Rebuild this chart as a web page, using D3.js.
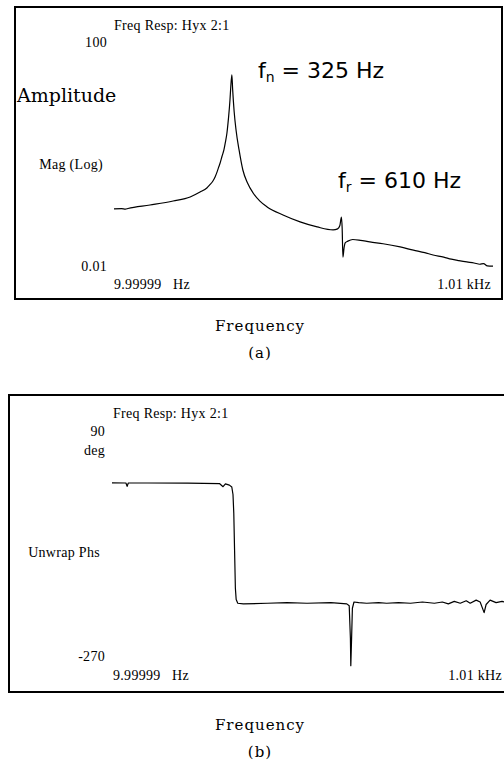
<!DOCTYPE html>
<html><head>
<meta charset="utf-8">
<script src="https://d3js.org/d3.v7.min.js"></script>
<style>
  body { margin: 0; background: white; }
  svg text { fill: black; }
  .small { font-family: "Liberation Serif", "Times New Roman", serif; font-size: 14px; letter-spacing: 0.3px; }
  .big { font-family: "DejaVu Serif", serif; font-size: 19px; }
  .cap { font-family: "DejaVu Serif", serif; font-size: 15px; letter-spacing: 1px; }
  .ann { font-family: "DejaVu Sans", sans-serif; font-size: 22px; }
  .trace { fill: none; stroke: black; stroke-width: 1.2; stroke-linejoin: round; }
</style>
</head>
<body>
<div id="chart"></div>
<script>
// magnitude trace (panel a) - frequency in Hz, magnitude (log axis)
var magFreq = [10, 30, 40, 47, 105, 166, 211, 237, 255, 262, 271, 277, 282, 286, 290, 295, 300, 304, 308, 312, 316, 318, 321, 323, 327, 332, 340, 350, 362, 377, 395, 414, 456, 501, 546, 588, 600, 606, 610, 612, 614, 617, 620, 627, 640, 660, 685, 720, 765, 800, 830, 852, 880, 900, 920, 941, 960, 975, 985, 995, 1010];
var magVal  = [0.109, 0.11, 0.108, 0.111, 0.128, 0.151, 0.178, 0.218, 0.258, 0.29, 0.343, 0.41, 0.5, 0.6, 0.72, 0.95, 1.23, 1.7, 2.47, 4.5, 9.6, 16, 27, 15, 6, 2.8, 1.23, 0.54, 0.32, 0.21, 0.15, 0.118, 0.085, 0.064, 0.052, 0.046, 0.048, 0.055, 0.078, 0.05, 0.015, 0.022, 0.027, 0.029, 0.031, 0.030, 0.028, 0.026, 0.0228, 0.020, 0.018, 0.0164, 0.015, 0.0138, 0.0130, 0.0123, 0.0118, 0.0112, 0.0115, 0.0105, 0.0104];

// unwrapped phase trace (panel b) - frequency in Hz, degrees
var phsFreq = [10, 45, 48, 51, 100, 200, 280, 289, 295, 305, 311, 314, 316, 318, 320, 322, 326, 340, 400, 450, 500, 560, 600, 606, 609, 610, 612, 614, 618, 630, 650, 680, 700, 730, 760, 790, 820, 840, 855, 870, 885, 900, 910, 925, 935, 945, 950, 960, 975, 990, 1005];
var phsVal  = [8.5, 8.4, 3, 8.4, 8.4, 8.2, 7.5, 2.5, 7, 5, 2, -10, -40, -100, -160, -178, -184, -185, -184, -183, -184, -183, -185, -188, -240, -284, -240, -192, -182, -183, -184, -183, -184, -183, -184, -182, -184, -182, -185, -181, -184, -180, -184, -179, -182, -199, -186, -179, -183, -181, -184];

var magTicks = ["100", "0.01"];
var phsTicks = ["90", "-270"];
var freqTicks = ["9.99999   Hz", "1.01 kHz"];

var W = 504, H = 767;
var svg = d3.select("#chart").append("svg")
  .attr("width", W).attr("height", H);
svg.append("rect").attr("width", W).attr("height", H).attr("fill", "white");

// ---------- panel (a) ----------
var xA = d3.scaleLinear().domain([10, 1010]).range([114, 493]);
var yA = d3.scaleLog().domain([0.01, 100]).range([267, 43]);

svg.append("rect")
  .attr("x", 15).attr("y", 7).attr("width", 487).attr("height", 292)
  .attr("fill", "none").attr("stroke", "black").attr("stroke-width", 2);

var magData = magFreq.map(function(f, i) { return {f: f, v: magVal[i]}; });
var lineA = d3.line()
  .x(function(d) { return xA(d.f); })
  .y(function(d) { return yA(d.v); })
  .curve(d3.curveMonotoneX);
svg.append("path").datum(magData).attr("class", "trace").attr("d", lineA);

svg.append("text").attr("class", "small").attr("x", 114).attr("y", 30).text("Freq Resp: Hyx 2:1");
svg.append("text").attr("class", "small").attr("text-anchor", "end")
  .attr("x", 107).attr("y", yA(100) + 4).text(magTicks[0]);
svg.append("text").attr("class", "small").attr("text-anchor", "end")
  .attr("x", 107).attr("y", yA(0.01) + 4).text(magTicks[1]);
svg.append("text").attr("class", "small").attr("text-anchor", "end")
  .attr("x", 103).attr("y", 169).text("Mag (Log)");
svg.append("text").attr("class", "big").attr("x", 17).attr("y", 102).text("Amplitude");
svg.append("text").attr("class", "small").attr("x", xA(10)).attr("y", 289)
  .style("white-space", "pre").attr("xml:space", "preserve").text(freqTicks[0]);
svg.append("text").attr("class", "small").attr("text-anchor", "end")
  .attr("x", xA(1010) - 2).attr("y", 289).text(freqTicks[1]);

// annotations
var fn = svg.append("text").attr("class", "ann").attr("x", 258).attr("y", 78);
fn.append("tspan").text("f");
fn.append("tspan").attr("dy", 4).style("font-size", "14px").text("n");
fn.append("tspan").attr("dy", -4).text(" = 325 Hz");
var fr = svg.append("text").attr("class", "ann").attr("x", 338).attr("y", 188);
fr.append("tspan").text("f");
fr.append("tspan").attr("dy", 4).style("font-size", "14px").text("r");
fr.append("tspan").attr("dy", -4).text(" = 610 Hz");

svg.append("text").attr("class", "cap").attr("text-anchor", "middle")
  .attr("x", 260).attr("y", 331).text("Frequency");
svg.append("text").attr("class", "cap").attr("text-anchor", "middle")
  .attr("x", 260).attr("y", 358).text("(a)");

// ---------- panel (b) ----------
var xB = d3.scaleLinear().domain([10, 1010]).range([112, 510]);
var yB = d3.scaleLinear().domain([-270, 90]).range([657, 432]);

svg.append("rect")
  .attr("x", 9).attr("y", 395).attr("width", 510).attr("height", 297)
  .attr("fill", "none").attr("stroke", "black").attr("stroke-width", 2);

var phsData = phsFreq.map(function(f, i) { return {f: f, v: phsVal[i]}; });
var lineB = d3.line()
  .x(function(d) { return xB(d.f); })
  .y(function(d) { return yB(d.v); });
svg.append("path").datum(phsData).attr("class", "trace").attr("d", lineB);

svg.append("text").attr("class", "small").attr("x", 113).attr("y", 418).text("Freq Resp: Hyx 2:1");
svg.append("text").attr("class", "small").attr("text-anchor", "end")
  .attr("x", 105).attr("y", yB(90) + 4).text(phsTicks[0]);
svg.append("text").attr("class", "small").attr("text-anchor", "end")
  .attr("x", 105).attr("y", 455).text("deg");
svg.append("text").attr("class", "small").attr("text-anchor", "end")
  .attr("x", 100).attr("y", 557).text("Unwrap Phs");
svg.append("text").attr("class", "small").attr("text-anchor", "end")
  .attr("x", 105).attr("y", yB(-270) + 4).text(phsTicks[1]);
svg.append("text").attr("class", "small").attr("x", 113).attr("y", 680)
  .style("white-space", "pre").attr("xml:space", "preserve").text(freqTicks[0]);
svg.append("text").attr("class", "small").attr("text-anchor", "end")
  .attr("x", 502).attr("y", 680).text(freqTicks[1]);

svg.append("text").attr("class", "cap").attr("text-anchor", "middle")
  .attr("x", 260).attr("y", 730).text("Frequency");
svg.append("text").attr("class", "cap").attr("text-anchor", "middle")
  .attr("x", 260).attr("y", 757).text("(b)");
</script>
</body></html>
